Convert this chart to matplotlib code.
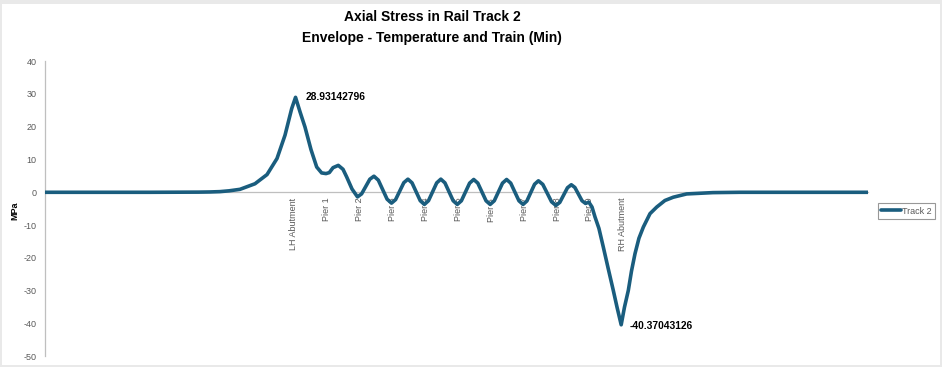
"""Axial stress envelope along rail track 2 (Excel-style line chart)."""
import matplotlib

matplotlib.use("Agg")
import matplotlib.pyplot as plt
from matplotlib.patches import Rectangle

LINE_COLOR = "#1a5d7e"
AXIS_GRAY = "#bfbfbf"
TEXT_GRAY = "#595959"

# chainage along the track (m) and stress (MPa)
chainage = [
    0, 95.8, 140.0, 150.5, 159.6, 168.0, 177.8, 191.5, 202.5, 211.6, 218.9,
    225.0, 228.5, 232.6, 237.1, 242.6, 247.8, 252.3, 256.3, 259.3, 262.7,
    267.5, 271.8, 275.1, 280.0, 285.0,
    288.75, 292.5, 296.25, 300.0, 304.0, 308.0, 312.0, 316.0,
    319.75, 323.5, 327.25, 331.0, 334.75, 338.5, 342.25, 346.0,
    349.75, 353.5, 357.25, 361.0, 364.75, 368.5, 372.25, 376.0,
    379.75, 383.5, 387.25, 391.0, 394.75, 398.5, 402.25, 406.0,
    409.75, 413.5, 417.25, 421.0, 424.75, 428.5, 432.25, 436.0,
    439.5, 443.0, 446.5, 450.0, 454.0, 458.0, 462.0, 466.0,
    469.5, 473.0, 476.5, 480.0, 483.25, 486.5, 489.75, 493.0,
    496.0, 498.9, 501.6, 505.2, 509.2, 513.5, 518.3, 521.7, 525.5,
    528.5, 532.0, 534.9, 538.1, 541.7, 545.7, 551.8, 557.9, 565.4,
    573.0, 585.2, 609.2, 633.8, 750.6,
]
stress = [
    0.0, 0.0, 0.05, 0.1, 0.2, 0.45, 0.9, 2.6, 5.4, 10.3, 17.4,
    25.5, 28.93142796, 24.5, 19.9, 13.0, 7.7, 5.9, 5.7, 6.0, 7.5,
    8.2, 7.0, 4.7, 1.0, -1.4,
    -0.48, 1.75, 3.98, 4.9, 3.7, 0.8, -2.1, -3.3,
    -2.23, 0.35, 2.93, 4.0, 2.87, 0.15, -2.57, -3.7,
    -2.57, 0.15, 2.87, 4.0, 2.87, 0.15, -2.57, -3.7,
    -2.59, 0.1, 2.79, 3.9, 2.79, 0.1, -2.59, -3.7,
    -2.59, 0.1, 2.79, 3.9, 2.79, 0.1, -2.59, -3.7,
    -2.65, -0.1, 2.45, 3.5, 2.4, -0.25, -2.9, -4.0,
    -3.08, -0.85, 1.38, 2.3, 1.47, -0.55, -2.57, -3.4,
    -3.0, -4.5, -7.5, -11.0, -16.7, -23.0, -29.9, -35.0, -40.37043126,
    -35.0, -29.9, -24.0, -18.7, -14.0, -10.6, -6.5, -4.5, -2.5,
    -1.5, -0.5, -0.1, 0.0, 0.0,
]

support_pos = [227, 257, 287, 317, 347, 377, 407, 437, 467, 497, 527]
support_labels = ["LH Abutment", "Pier 1", "Pier 2", "Pier 3", "Pier 4", "Pier 5",
                  "Pier 6", "Pier 7", "Pier 8", "Pier 9", "RH Abutment"]
y_ticks = [40, 30, 20, 10, 0, -10, -20, -30, -40, -50]

max_val = max(stress)
min_val = min(stress)

plt.rcParams["font.family"] = ["Liberation Sans", "DejaVu Sans"]

fig = plt.figure(figsize=(9.42, 3.67), dpi=100, facecolor="#e9e9e9")
# white chart area inside the light grey frame
fig.patches.append(Rectangle((2 / 942, 2.5 / 367), 937.5 / 942, 360.5 / 367,
                             transform=fig.transFigure, facecolor="white",
                             edgecolor="none", zorder=-10))

ax = fig.add_axes([45 / 942, 10.6 / 367, 823 / 942, 295.4 / 367])
ax.set_facecolor("none")

# spine position first: moving it resets the tick properties
for s in ["top", "right"]:
    ax.spines[s].set_visible(False)
ax.spines["bottom"].set_position(("data", 0))
ax.spines["bottom"].set_color(AXIS_GRAY)
ax.spines["left"].set_color(AXIS_GRAY)
ax.spines["bottom"].set_linewidth(0.9)
ax.spines["left"].set_linewidth(0.9)
ax.spines["bottom"].set_zorder(1)

ax.plot(chainage, stress, color=LINE_COLOR, lw=2.6, solid_joinstyle="round",
        solid_capstyle="round", label="Track 2", zorder=3)

ax.set_xlim(0, 750.6)
ax.set_ylim(-50, 40)
ax.set_yticks(y_ticks)
ax.set_yticklabels([str(v) for v in y_ticks])
ax.set_xticks(support_pos)
ax.set_xticklabels(support_labels, rotation=90, va="top", ha="center")
ax.tick_params(axis="y", length=0, pad=6, labelsize=6.5, labelcolor=TEXT_GRAY)
ax.tick_params(axis="x", length=0, pad=4, labelsize=6.5, labelcolor=TEXT_GRAY)

# data labels on the extremes
i_max = stress.index(max_val)
i_min = stress.index(min_val)
ax.annotate(f"{max_val:.8f}", (chainage[i_max], max_val), xytext=(7, 0),
            textcoords="offset points", ha="left", va="center",
            fontsize=7.4, fontweight="bold", color="black")
ax.annotate(f"{min_val:.8f}", (chainage[i_min], min_val), xytext=(6, -1),
            textcoords="offset points", ha="left", va="center",
            fontsize=7.4, fontweight="bold", color="black")

fig.text(14.5 / 942, 1 - 211 / 367, "MPa", rotation=90, ha="center",
         va="center", fontsize=6.5, fontweight="bold", color="black")

title_kw = dict(ha="center", va="center", fontsize=10, fontweight="bold")
fig.text(432 / 942, 1 - 17 / 367, "Axial Stress in Rail Track 2", **title_kw)
fig.text(432 / 942, 1 - 38 / 367, "Envelope - Temperature and Train (Min)",
         **title_kw)

leg = ax.legend(loc="center left", bbox_to_anchor=(878 / 942, 1 - 211 / 367),
                bbox_transform=fig.transFigure, fontsize=6.5, frameon=True,
                fancybox=False, handlelength=2.2, handletextpad=0.1,
                borderpad=0.35, borderaxespad=0)
leg.get_frame().set_edgecolor("#7f7f7f")
leg.get_frame().set_linewidth(0.8)
for t in leg.get_texts():
    t.set_color(TEXT_GRAY)

fig.savefig("out.png", dpi=100, facecolor=fig.get_facecolor())
